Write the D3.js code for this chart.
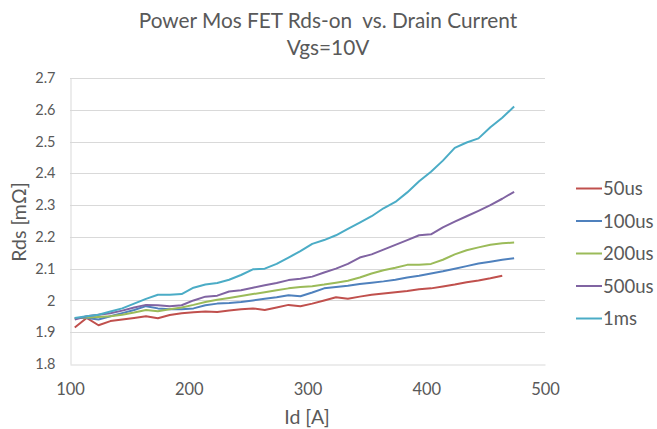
<!DOCTYPE html>
<html><head><meta charset="utf-8">
<script src="https://cdn.jsdelivr.net/npm/d3@7"></script>
<style>body{margin:0;background:#fff}svg{display:block}text{font-family:Lato,"Open Sans",sans-serif;fill:#595959}</style>
</head><body><svg id="c" width="657" height="429"></svg>
<script>
const currents = [104,114,124,134,144,154,164,174,184,194,204,214,224,234,244,254,264,274,284,294,304,314,324,334,344,354,364,374,384,394,404,414,424,434,444,454,464,474];
const s50us  = [1.915,1.945,1.922,1.935,1.94,1.945,1.95,1.944,1.954,1.96,1.963,1.965,1.964,1.968,1.972,1.975,1.97,1.978,1.986,1.982,1.99,2.0,2.01,2.005,2.012,2.018,2.022,2.026,2.03,2.035,2.038,2.044,2.05,2.057,2.063,2.07,2.078];
const s100us = [1.945,1.945,1.94,1.95,1.96,1.97,1.982,1.975,1.972,1.972,1.975,1.985,1.99,1.992,1.995,2.0,2.005,2.01,2.016,2.013,2.025,2.038,2.042,2.046,2.052,2.056,2.06,2.065,2.072,2.078,2.085,2.092,2.1,2.108,2.116,2.122,2.128,2.133];
const s200us = [1.944,1.946,1.948,1.95,1.955,1.962,1.97,1.966,1.972,1.978,1.986,1.995,2.002,2.008,2.014,2.02,2.026,2.032,2.038,2.042,2.045,2.05,2.056,2.062,2.072,2.085,2.095,2.103,2.112,2.112,2.115,2.128,2.145,2.158,2.167,2.175,2.18,2.182];
const s500us = [1.94,1.95,1.955,1.96,1.968,1.978,1.986,1.985,1.982,1.985,2.0,2.012,2.015,2.028,2.032,2.04,2.048,2.055,2.064,2.068,2.075,2.088,2.1,2.115,2.135,2.145,2.16,2.175,2.19,2.205,2.208,2.23,2.248,2.265,2.282,2.3,2.32,2.342];
const s1ms   = [1.945,1.95,1.955,1.965,1.975,1.99,2.005,2.018,2.018,2.02,2.04,2.05,2.055,2.065,2.08,2.098,2.1,2.115,2.135,2.155,2.178,2.19,2.205,2.225,2.245,2.265,2.29,2.31,2.34,2.375,2.405,2.44,2.48,2.497,2.51,2.545,2.575,2.61];
const seriesNames = ["50us","100us","200us","500us","1ms"];
const seriesValues = [s50us,s100us,s200us,s500us,s1ms];
const colors = ["#C0504D","#4F81BD","#9BBB59","#8064A2","#4BACC6"];
const xTicks = [100,200,300,400,500];
const yTicks = [1.8,1.9,2,2.1,2.2,2.3,2.4,2.5,2.6,2.7];

const svg = d3.select("#c");
const L=70,R=545,T=78,B=364;
const x = d3.scaleLinear().domain([100,500]).range([L,R]);
const y = d3.scaleLinear().domain([1.8,2.7]).range([B,T]);

svg.append("g").selectAll("line").data(yTicks.slice(1)).join("line")
  .attr("x1",L).attr("x2",R).attr("y1",d=>Math.round(y(d))+0.5).attr("y2",d=>Math.round(y(d))+0.5)
  .attr("stroke","#d9d9d9").attr("stroke-width",1);

const yAxis = svg.append("g").attr("transform",`translate(${L+0.5},0)`)
  .call(d3.axisLeft(y).tickValues(yTicks).tickFormat(d=>d3.format("")(+d.toFixed(1))).tickSize(0).tickPadding(15));
yAxis.select(".domain").attr("stroke","#d9d9d9");
yAxis.selectAll("text").attr("font-size",14.5);
const xAxis = svg.append("g").attr("transform",`translate(0,${B+0.5})`)
  .call(d3.axisBottom(x).tickValues(xTicks).tickSize(0).tickPadding(19));
xAxis.select(".domain").attr("stroke","#d9d9d9");
xAxis.selectAll("text").attr("font-size",16.5);
svg.selectAll(".tick text").attr("font-family","Lato, 'Open Sans', sans-serif").style("fill","#595959");

const line = d3.line().x((d,i)=>x(currents[i])).y(d=>y(d));
seriesValues.forEach((vals,k)=>{
  svg.append("path").datum(vals).attr("d",line).attr("fill","none")
    .attr("stroke",colors[k]).attr("stroke-width",2).attr("stroke-linejoin","round");
});

svg.append("text").attr("x",328).attr("y",28).attr("text-anchor","middle").attr("font-size",20.8).style("white-space","pre").text("Power Mos FET Rds-on  vs. Drain Current");
svg.append("text").attr("x",328).attr("y",55).attr("text-anchor","middle").attr("font-size",20.8).text("Vgs=10V");
svg.append("text").attr("transform","translate(26,222) rotate(-90)").attr("text-anchor","middle").attr("font-size",19.5).text("Rds [mΩ]");
svg.append("text").attr("x",307).attr("y",424).attr("text-anchor","middle").attr("font-size",19.5).text("Id [A]");

const lg = svg.append("g").selectAll("g").data(seriesNames).join("g")
  .attr("transform",(d,i)=>`translate(576,${188.5+i*32.5})`);
lg.append("line").attr("x1",0).attr("x2",26).attr("stroke",(d,i)=>colors[i]).attr("stroke-width",2);
lg.append("text").attr("x",27).attr("y",6.5).attr("font-size",18.5).text(d=>d);
</script></body></html>
